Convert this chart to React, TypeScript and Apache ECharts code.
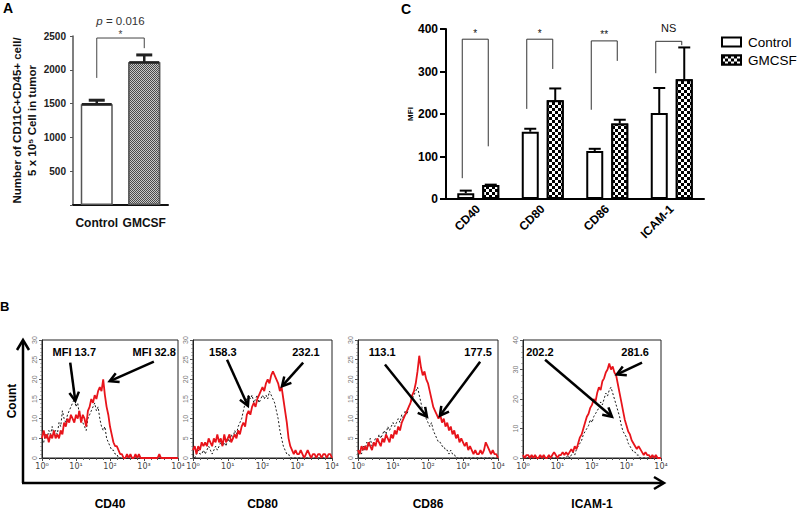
import React, { useEffect, useRef } from 'react';
import * as echarts from 'echarts';

const FONT = '"Liberation Sans", Arial, Helvetica, sans-serif';

// ---------- Panel A ----------
const A_GROUPS = ['Control', 'GMCSF'];
const A_MEANS = [1490, 2110];
const A_SD = [60, 110];
const A_Y_MAX = 2500;
const A_Y_STEP = 500;
const A_BRACKET = [2470, 1880, 2320]; // bar top, left foot, right foot
const A_SIG = '*';
const A_P_VALUE = '0.016';

// ---------- Panel C ----------
const C_MARKERS = ['CD40', 'CD80', 'CD86', 'ICAM-1'];
const C_CONTROL = [13.7, 158.3, 113.1, 202.2];
const C_GMCSF = [32.8, 232.1, 177.5, 281.6];
const C_CONTROL_SD = [6, 7, 5, 59];
const C_GMCSF_SD = [1, 28, 9, 75];
const C_SIG = ['*', '*', '**', 'NS'];
const C_BRACKET_TOP = [376, 376, 372, 371];
const C_BRACKET_LEFT = [49, 212, 210, 296];
const C_BRACKET_RIGHT = [124, 306, 325, 362];
const C_Y_MAX = 400;
const C_Y_STEP = 100;

// ---------- Panel B (flow histograms, x = log10 fluorescence) ----------
const B_MARKERS = ['CD40', 'CD80', 'CD86', 'ICAM-1'];
const B_DECADES = ['10\u2070', '10\u00b9', '10\u00b2', '10\u00b3', '10\u2074'];
const B_Y_MAX = [30, 30, 30, 40];
const B_Y_STEP = [5, 5, 5, 10];
const B_LOG_BINS = [
  0, 0.05, 0.1, 0.15, 0.2, 0.25, 0.3, 0.35, 0.4, 0.45,
  0.5, 0.55, 0.6, 0.65, 0.7, 0.75, 0.8, 0.85, 0.9, 0.95,
  1, 1.05, 1.1, 1.15, 1.2, 1.25, 1.3, 1.35, 1.4, 1.45,
  1.5, 1.55, 1.6, 1.65, 1.7, 1.75, 1.8, 1.85, 1.9, 1.95,
  2, 2.05, 2.1, 2.15, 2.2, 2.25, 2.3, 2.35, 2.4, 2.45,
  2.5, 2.55, 2.6, 2.65, 2.7, 2.75, 2.8, 2.85, 2.9, 2.95,
  3, 3.05, 3.1, 3.15, 3.2, 3.25, 3.3, 3.35, 3.4, 3.45,
  3.5, 3.55, 3.6, 3.65, 3.7, 3.75, 3.8, 3.85, 3.9, 3.95,
  4,
];
const B_CD40_GMCSF = [
  5, 7, 5, 6, 4, 6, 5, 7, 5, 6,
  5, 7, 6, 9, 8, 10, 9, 11, 10, 9,
  11, 10, 12, 9, 11, 10, 8, 12, 13, 15,
  14, 16, 15, 17, 18, 17, 20, 16, 13, 11,
  8, 6, 4, 3, 3, 2, 1, 1, 0, 0,
  1, 0, 1, 0, 0, 1, 0, 1, 0, 0,
  0, 0, 0, 0, 0, 0, 0, 0, 0, 1,
  0, 0, 0, 0, 0, 0, 0, 0, 0, 0,
  0,
];
const B_CD40_CONTROL = [
  5, 4, 6, 5, 7, 6, 8, 6, 7, 6,
  9, 8, 12, 10, 9, 11, 12, 13, 14, 15,
  13, 14, 11, 10, 9, 8, 7, 10, 11, 12,
  13, 14, 12, 13, 10, 8, 7, 8, 5, 4,
  3, 2, 2, 1, 1, 0, 0, 0, 0, 0,
  0, 0, 0, 0, 0, 0, 0, 0, 0, 0,
  0, 0, 0, 0, 0, 0, 0, 0, 0, 0,
  0, 0, 0, 0, 0, 0, 0, 0, 0, 0,
  0,
];
const B_CD80_GMCSF = [
  2, 3, 1, 3, 2, 4, 3, 4, 3, 5,
  4, 3, 5, 4, 6, 4, 5, 3, 6, 4,
  5, 6, 4, 5, 6, 5, 7, 6, 8, 9,
  8, 11, 12, 11, 13, 14, 13, 15, 16, 17,
  18, 17, 19, 20, 19, 21, 22, 21, 20, 19,
  17, 18, 15, 12, 9, 5, 3, 2, 1, 2,
  1, 1, 2, 1, 0, 1, 2, 1, 0, 1,
  1, 0, 1, 1, 0, 1, 1, 0, 1, 1,
  0,
];
const B_CD80_CONTROL = [
  1, 0, 1, 2, 1, 1, 2, 1, 2, 3,
  2, 1, 2, 3, 2, 3, 4, 3, 4, 3,
  5, 4, 6, 5, 7, 6, 8, 9, 10, 12,
  14, 15, 16, 15, 16, 14, 15, 16, 14, 15,
  16, 15, 16, 15, 17, 16, 15, 14, 12, 10,
  7, 5, 3, 2, 1, 1, 0, 0, 0, 0,
  0, 0, 0, 0, 0, 0, 0, 0, 0, 0,
  0, 0, 0, 0, 0, 0, 0, 0, 0, 0,
  0,
];
const B_CD86_GMCSF = [
  2, 1, 3, 2, 3, 2, 4, 3, 2, 4,
  3, 5, 4, 3, 5, 4, 6, 5, 4, 6,
  5, 7, 6, 8, 7, 9, 10, 11, 12, 13,
  14, 16, 17, 19, 22, 26, 23, 21, 22, 20,
  19, 17, 15, 13, 12, 11, 10, 11, 9, 10,
  8, 9, 7, 8, 6, 7, 5, 6, 4, 5,
  4, 3, 4, 2, 3, 2, 1, 2, 1, 1,
  2, 1, 2, 4, 3, 2, 1, 2, 1, 1,
  0,
];
const B_CD86_CONTROL = [
  1, 2, 1, 3, 2, 4, 3, 5, 3, 4,
  5, 4, 6, 5, 6, 7, 6, 8, 7, 8,
  9, 8, 9, 10, 9, 11, 10, 12, 11, 13,
  14, 15, 16, 17, 18, 16, 14, 12, 11, 10,
  9, 8, 9, 7, 6, 5, 4, 4, 3, 3,
  2, 2, 1, 2, 1, 1, 0, 0, 0, 0,
  0, 0, 0, 0, 0, 0, 0, 0, 0, 0,
  0, 0, 0, 0, 0, 0, 0, 0, 0, 0,
  0,
];
const B_ICAM_GMCSF = [
  1, 0, 1, 1, 0, 1, 0, 1, 0, 0,
  1, 0, 1, 0, 0, 1, 0, 1, 2, 1,
  0, 1, 1, 2, 1, 2, 1, 2, 3, 2,
  4, 3, 5, 7, 8, 10, 12, 14, 15, 17,
  18, 20, 19, 22, 24, 23, 26, 27, 29, 30,
  32, 30, 31, 29, 28, 25, 22, 19, 16, 13,
  11, 9, 8, 6, 5, 4, 3, 4, 3, 2,
  1, 2, 1, 1, 0, 1, 0, 1, 0, 0,
  0,
];
const B_ICAM_CONTROL = [
  0, 0, 0, 0, 0, 0, 0, 0, 0, 0,
  0, 0, 0, 0, 0, 0, 0, 0, 0, 0,
  0, 0, 0, 0, 0, 0, 1, 0, 1, 2,
  1, 3, 4, 5, 6, 8, 9, 10, 11, 13,
  12, 14, 15, 16, 17, 19, 18, 20, 22, 21,
  23, 24, 22, 20, 18, 16, 14, 11, 9, 8,
  7, 5, 4, 3, 2, 2, 1, 1, 0, 0,
  0, 0, 0, 0, 0, 0, 0, 0, 0, 0,
  0,
];
const B_GMCSF = [B_CD40_GMCSF, B_CD80_GMCSF, B_CD86_GMCSF, B_ICAM_GMCSF];
const B_CONTROL = [B_CD40_CONTROL, B_CD80_CONTROL, B_CD86_CONTROL, B_ICAM_CONTROL];

// annotation anchors in each histogram's data space (log10 x, count y)
const B_LABEL_POS = [
  [[0.95, 27], [3.3, 27]],
  [[0.86, 27], [3.25, 27]],
  [[0.69, 27], [3.43, 27]],
  [[0.49, 36], [3.25, 36]],
];
const B_ARROWS = [
  [[0.83, 24.25, 0.98, 14.5], [3.29, 24.5, 1.99, 19.5]],
  [[0.98, 25, 1.58, 13.25], [3.17, 24.25, 2.56, 18.25]],
  [[0.77, 23.75, 1.97, 10.5], [3.49, 24.5, 2.34, 10.75]],
  [[0.64, 33.3, 2.58, 14], [3.45, 32.3, 2.72, 28.3]],
];

// ---------- layout ----------
const B_GRID_LEFT = [42, 193, 358, 523];
const B_GRID_WIDTH = [136, 139, 140, 138];

const A_DECAL = {
  symbol: 'rect', symbolSize: 1, color: '#c8c8c8',
  dashArrayX: [[1, 1], [0, 1, 1, 0]], dashArrayY: [1, 0], rotation: 0,
};
const C_DECAL = {
  symbol: 'rect', symbolSize: 1, color: '#ffffff',
  dashArrayX: [[3, 3], [0, 3, 3, 0]], dashArrayY: [3, 0], rotation: 0,
};

function bLabelText(p: number, k: number) {
  const v = (k === 0 ? C_CONTROL[p] : C_GMCSF[p]).toFixed(1);
  return p === 0 ? 'MFI ' + v : v;
}

function buildOption() {
  const grid: any[] = [
    { left: 73, top: 36, width: 95, height: 169 },
    { left: 446, top: 29, width: 258, height: 170 },
  ];
  const xAxis: any[] = [
    {
      gridIndex: 0, type: 'category', data: A_GROUPS,
      axisLine: { lineStyle: { color: '#111', width: 2 } },
      axisTick: { alignWithLabel: true, length: 5, lineStyle: { color: '#333' } },
      axisLabel: { interval: 0, fontSize: 12, fontWeight: 'bold', color: '#111', margin: 12, fontFamily: FONT },
    },
    {
      gridIndex: 1, type: 'category', data: C_MARKERS,
      axisLine: { lineStyle: { color: '#000', width: 2 } },
      axisTick: { alignWithLabel: true, length: 6, lineStyle: { color: '#000', width: 2 } },
      axisLabel: { interval: 0, rotate: 45, fontSize: 12, fontWeight: 'bold', color: '#000', margin: 8, fontFamily: FONT },
    },
  ];
  const yAxis: any[] = [
    {
      gridIndex: 0, type: 'value', min: 0, max: A_Y_MAX, interval: A_Y_STEP,
      axisLine: { show: true, lineStyle: { color: '#555', width: 1.5 } },
      axisTick: { show: true, length: 3, lineStyle: { color: '#555' } },
      splitLine: { show: false },
      axisLabel: { formatter: (v: number) => (v === 0 ? '' : String(v)), fontSize: 10, fontWeight: 'bold', color: '#222', margin: 7, fontFamily: FONT },
      name: 'Number of CD11C+CD45+ cell/\n5 x 10\u2075 Cell in tumor',
      nameLocation: 'middle', nameRotate: 90, nameGap: 34,
      nameTextStyle: { fontSize: 11.5, fontWeight: 'bold', color: '#111', lineHeight: 15, fontFamily: FONT },
    },
    {
      gridIndex: 1, type: 'value', min: 0, max: C_Y_MAX, interval: C_Y_STEP,
      axisLine: { show: true, lineStyle: { color: '#000', width: 2 } },
      axisTick: { show: true, length: 6, lineStyle: { color: '#000', width: 2 } },
      splitLine: { show: false },
      axisLabel: { fontSize: 12, fontWeight: 'bold', color: '#000', margin: 8, fontFamily: FONT },
      name: 'MFI', nameLocation: 'middle', nameRotate: 90, nameGap: 24,
      nameTextStyle: { fontSize: 8, fontWeight: 'bold', color: '#000', fontFamily: FONT },
    },
  ];

  const series: any[] = [
    {
      type: 'bar', name: 'A groups', xAxisIndex: 0, yAxisIndex: 0, barWidth: 32,
      data: A_MEANS.map((v, i) => ({
        value: v,
        itemStyle: i === 0
          ? { color: '#ffffff', borderColor: '#555', borderWidth: 1.5 }
          : { color: '#4a4a4a', borderColor: '#555', borderWidth: 1.5, decal: A_DECAL },
      })),
    },
    {
      type: 'custom', name: 'A err', xAxisIndex: 0, yAxisIndex: 0, z: 5,
      data: A_MEANS.map((m, i) => [i, m, m + A_SD[i]]),
      renderItem: (params: any, api: any) => {
        const b = api.coord([api.value(0), api.value(1)]);
        const t = api.coord([api.value(0), api.value(2)]);
        return {
          type: 'group', children: [
            { type: 'line', shape: { x1: b[0], y1: b[1], x2: t[0], y2: t[1] }, style: { stroke: '#222', lineWidth: 2.5 } },
            { type: 'line', shape: { x1: t[0] - 8, y1: t[1], x2: t[0] + 8, y2: t[1] }, style: { stroke: '#222', lineWidth: 3 } },
            { type: 'line', shape: { x1: b[0] - 15, y1: b[1], x2: b[0] + 15, y2: b[1] }, style: { stroke: '#222', lineWidth: 2.5 } },
          ],
        };
      },
    },
    {
      type: 'custom', name: 'A bracket', xAxisIndex: 0, yAxisIndex: 0, z: 5,
      data: [[0, A_BRACKET[0], A_BRACKET[1], A_BRACKET[2]]],
      renderItem: (params: any, api: any) => {
        const t0 = api.coord([0, api.value(1)]);
        const t1 = api.coord([1, api.value(1)]);
        const lf = api.coord([0, api.value(2)]);
        const rf = api.coord([1, api.value(3)]);
        const mid = (t0[0] + t1[0]) / 2;
        return {
          type: 'group', children: [
            { type: 'polyline', shape: { points: [[t0[0], lf[1]], [t0[0], t0[1]], [t1[0], t0[1]], [t1[0], rf[1]]] }, style: { stroke: '#444', lineWidth: 1, fill: 'none' } },
            { type: 'text', x: mid, y: t0[1] + 1, style: { text: A_SIG, fontSize: 10, fontFamily: FONT, fill: '#444', align: 'center', verticalAlign: 'bottom' } },
            {
              type: 'text', x: mid, y: t0[1] - 17,
              style: {
                text: '{i|p} = ' + A_P_VALUE, fontSize: 11.5, fontFamily: FONT, fill: '#333', align: 'center', verticalAlign: 'middle',
                rich: { i: { fontStyle: 'italic', fontSize: 11.5, fontFamily: FONT, fill: '#333' } },
              },
            },
          ],
        };
      },
    },
    {
      type: 'bar', name: 'Control', xAxisIndex: 1, yAxisIndex: 1, barWidth: 17, barGap: '47%',
      data: C_CONTROL,
      itemStyle: { color: '#ffffff', borderColor: '#000', borderWidth: 2 },
    },
    {
      type: 'bar', name: 'GMCSF', xAxisIndex: 1, yAxisIndex: 1, barWidth: 17, barGap: '47%',
      data: C_GMCSF,
      itemStyle: { color: '#000000', borderColor: '#000', borderWidth: 2, decal: C_DECAL },
    },
    {
      type: 'custom', name: 'C err', xAxisIndex: 1, yAxisIndex: 1, z: 5,
      data: C_MARKERS.flatMap((_, i) => [
        [i, C_CONTROL[i], C_CONTROL[i] + C_CONTROL_SD[i], -1],
        [i, C_GMCSF[i], C_GMCSF[i] + C_GMCSF_SD[i], 1],
      ]),
      renderItem: (params: any, api: any) => {
        const b = api.coord([api.value(0), api.value(1)]);
        const t = api.coord([api.value(0), api.value(2)]);
        const x = b[0] + api.value(3) * 12.5;
        return {
          type: 'group', children: [
            { type: 'line', shape: { x1: x, y1: b[1], x2: x, y2: t[1] }, style: { stroke: '#000', lineWidth: 2 } },
            { type: 'line', shape: { x1: x - 6, y1: t[1], x2: x + 6, y2: t[1] }, style: { stroke: '#000', lineWidth: 2 } },
          ],
        };
      },
    },
    {
      type: 'custom', name: 'C brackets', xAxisIndex: 1, yAxisIndex: 1, z: 5,
      data: C_MARKERS.map((_, i) => [i, C_BRACKET_TOP[i], C_BRACKET_LEFT[i], C_BRACKET_RIGHT[i]]),
      renderItem: (params: any, api: any) => {
        const i = api.value(0);
        const top = api.coord([i, api.value(1)]);
        const lf = api.coord([i, api.value(2)]);
        const rf = api.coord([i, api.value(3)]);
        const lx = top[0] - 16;
        const rx = top[0] + 10;
        const sig = C_SIG[params.dataIndex];
        const ns = sig === 'NS';
        return {
          type: 'group', children: [
            { type: 'polyline', shape: { points: [[lx, lf[1]], [lx, top[1]], [rx, top[1]], [rx, rf[1]]] }, style: { stroke: '#333', lineWidth: 1, fill: 'none' } },
            { type: 'text', x: (lx + rx) / 2, y: top[1] - (ns ? 8 : 1), style: { text: sig, fontSize: ns ? 11 : 10, fontFamily: FONT, fill: '#111', align: 'center', verticalAlign: 'bottom' } },
          ],
        };
      },
    },
  ];

  B_MARKERS.forEach((m, p) => {
    const gi = 2 + p;
    grid.push({ left: B_GRID_LEFT[p], top: 340, width: B_GRID_WIDTH[p], height: 120, show: true, borderColor: '#222', borderWidth: 1 });
    xAxis.push({
      gridIndex: gi, type: 'value', min: 0, max: 4, interval: 1,
      axisLine: { onZero: false, lineStyle: { color: '#222', width: 1 } },
      axisTick: { length: 3, lineStyle: { color: '#444' } },
      minorTick: { show: true, splitNumber: 5, length: 2, lineStyle: { color: '#555' } },
      splitLine: { show: false },
      axisLabel: { formatter: (v: number) => B_DECADES[Math.round(v)], fontSize: 8, color: '#444', margin: 4, showMinLabel: true, showMaxLabel: true, fontFamily: 'DejaVu Sans, sans-serif' },
      name: m, nameLocation: 'middle', nameGap: 40,
      nameTextStyle: { fontSize: 12, fontWeight: 'bold', color: '#000', fontFamily: FONT },
    });
    yAxis.push({
      gridIndex: gi, type: 'value', min: 0, max: B_Y_MAX[p], interval: B_Y_STEP[p],
      axisLine: { show: true, lineStyle: { color: '#222', width: 1 } },
      axisTick: { show: true, length: 3, lineStyle: { color: '#555' } },
      minorTick: { show: true, splitNumber: 5, length: 1.5, lineStyle: { color: '#777' } },
      splitLine: { show: false },
      axisLabel: { rotate: 90, fontSize: 7, color: '#777', margin: 4, fontFamily: FONT },
    });
    series.push({
      type: 'line', name: m + ' control hist', xAxisIndex: gi, yAxisIndex: gi, z: 2,
      showSymbol: false, symbol: 'none',
      data: B_LOG_BINS.map((x, i) => [x, B_CONTROL[p][i]]),
      lineStyle: { color: '#1a1a1a', width: 1, type: [2, 2] },
    });
    series.push({
      type: 'line', name: m + ' gmcsf hist', xAxisIndex: gi, yAxisIndex: gi, z: 3,
      showSymbol: false, symbol: 'none',
      data: B_LOG_BINS.map((x, i) => [x, B_GMCSF[p][i]]),
      lineStyle: { color: '#e8141b', width: 1.8 },
    });
    series.push({
      type: 'custom', name: m + ' arrows', xAxisIndex: gi, yAxisIndex: gi, z: 6,
      data: B_ARROWS[p],
      renderItem: (params: any, api: any) => {
        const a = api.coord([api.value(0), api.value(1)]);
        const b = api.coord([api.value(2), api.value(3)]);
        const ang = Math.atan2(b[1] - a[1], b[0] - a[0]);
        const L = 10;
        const s = 0.5;
        const h1 = [b[0] - L * Math.cos(ang - s), b[1] - L * Math.sin(ang - s)];
        const h2 = [b[0] - L * Math.cos(ang + s), b[1] - L * Math.sin(ang + s)];
        return {
          type: 'group', children: [
            { type: 'line', shape: { x1: a[0], y1: a[1], x2: b[0] - 1.5 * Math.cos(ang), y2: b[1] - 1.5 * Math.sin(ang) }, style: { stroke: '#000', lineWidth: 2.5 } },
            { type: 'polyline', shape: { points: [h1, b, h2] }, style: { stroke: '#000', lineWidth: 2.5, fill: 'none' } },
          ],
        };
      },
    });
    series.push({
      type: 'custom', name: m + ' labels', xAxisIndex: gi, yAxisIndex: gi, z: 6,
      data: B_LABEL_POS[p],
      renderItem: (params: any, api: any) => {
        const c = api.coord([api.value(0), api.value(1)]);
        return {
          type: 'text', x: c[0], y: c[1],
          style: { text: bLabelText(p, params.dataIndex), fontSize: 11, fontWeight: 'bold', fontFamily: FONT, fill: '#000', align: 'center', verticalAlign: 'middle' },
        };
      },
    });
  });

  return {
    animation: false,
    backgroundColor: '#ffffff',
    textStyle: { fontFamily: FONT },
    grid, xAxis, yAxis, series,
    legend: {
      data: ['Control', 'GMCSF'], orient: 'vertical', left: 721, top: 35, padding: 0,
      itemWidth: 19, itemHeight: 9, itemGap: 4, icon: 'rect',
      textStyle: { fontSize: 13.5, color: '#000', fontFamily: FONT, padding: [0, 0, 0, 2] },
    },
    graphic: [
      { type: 'text', x: 3, y: 1, style: { text: 'A', fontSize: 14, fontWeight: 'bold', fill: '#000', fontFamily: FONT } },
      { type: 'text', x: 401, y: 2, style: { text: 'C', fontSize: 14, fontWeight: 'bold', fill: '#000', fontFamily: FONT } },
      { type: 'text', x: 0, y: 300, style: { text: 'B', fontSize: 13, fontWeight: 'bold', fill: '#000', fontFamily: FONT } },
      { type: 'text', x: 12, y: 401, rotation: Math.PI / 2, style: { text: 'Count', fontSize: 12, fontWeight: 'bold', fill: '#000', fontFamily: FONT, align: 'center', verticalAlign: 'middle' } },
      { type: 'line', shape: { x1: 23, y1: 483, x2: 23, y2: 341 }, style: { stroke: '#000', lineWidth: 2.5 } },
      { type: 'polyline', shape: { points: [[17, 350], [23, 340], [29, 350]] }, style: { stroke: '#000', lineWidth: 2.5, fill: 'none' } },
      { type: 'line', shape: { x1: 22, y1: 483, x2: 663, y2: 483 }, style: { stroke: '#000', lineWidth: 2.5 } },
      { type: 'polyline', shape: { points: [[654, 477], [664, 483], [654, 489]] }, style: { stroke: '#000', lineWidth: 2.5, fill: 'none' } },
    ],
  };
}

export default function App() {
  const ref = useRef<HTMLDivElement>(null);
  useEffect(() => {
    const chart = echarts.init(ref.current as HTMLDivElement, null, { renderer: 'svg' });
    chart.setOption(buildOption() as any);
    return () => chart.dispose();
  }, []);
  return (
    <div
      ref={ref}
      style={{ position: 'absolute', left: 0, top: 0, width: 800, height: 511, background: '#fff' }}
    />
  );
}
